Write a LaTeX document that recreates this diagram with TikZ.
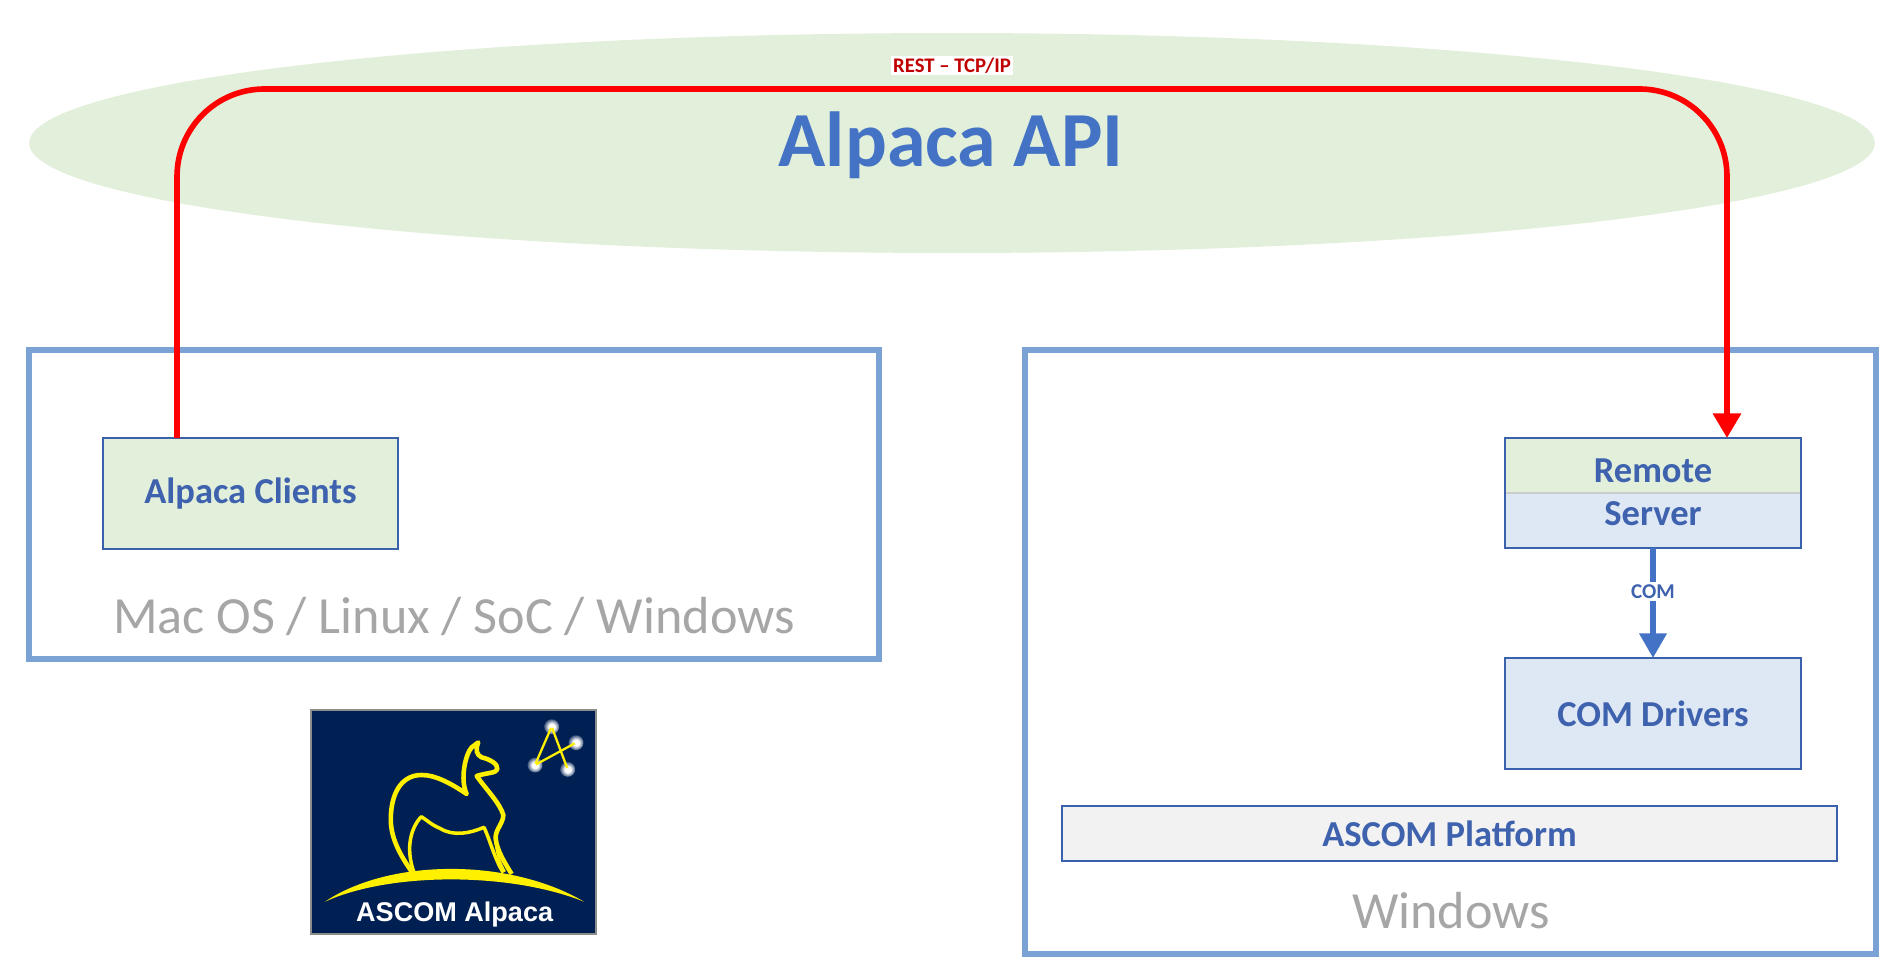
\documentclass[tikz,border=0pt]{standalone}
\usepackage{fontspec}
\setmainfont{Carlito}
\newfontfamily\logofont{Liberation Sans}
\usetikzlibrary{positioning,calc}
\usetikzlibrary{arrows.meta,shapes.geometric}
\definecolor{ApiGreen}{RGB}{226,239,218}
\definecolor{ApiBlue}{RGB}{68,114,196}
\definecolor{OsBlue}{RGB}{122,162,212}
\definecolor{BoxBlue}{RGB}{222,232,245}
\definecolor{BoxEdge}{RGB}{58,98,172}
\definecolor{TextBlue}{RGB}{62,98,174}
\definecolor{PlainGray}{RGB}{242,242,242}
\definecolor{OsGray}{RGB}{166,166,166}
\definecolor{RestRed}{RGB}{192,0,0}
\definecolor{LogoNavy}{RGB}{0,32,84}
\definecolor{LogoYellow}{RGB}{255,240,0}
\pgfdeclareradialshading{starglow}{\pgfpoint{0bp}{0bp}}{color(0bp)=(white);color(10bp)=(white);color(30bp)=(LogoNavy);color(100bp)=(LogoNavy)}
\tikzset{
  osbox/.style={draw=OsBlue,line width=3.8pt,inner sep=0pt,outer sep=0pt},
  swbox/.style={draw=BoxEdge,line width=1pt,inner sep=0pt,outer sep=0pt,text=TextBlue,font=\fontsize{20.8}{24}\selectfont\bfseries},
  oslabel/.style={text=OsGray,font=\fontsize{29.7}{34}\selectfont},
  rest/.style={draw=red,line width=3.2pt,rounded corners=1.75cm,-{Triangle[length=14pt,width=15.5pt]}},
  com/.style={draw=ApiBlue,line width=3.2pt,-{Triangle[length=14pt,width=15pt]}},
  logoline/.style={draw=LogoYellow,line width=2.6pt,line join=round},
  star/.style={circle,shading=starglow,minimum size=0.3cm,inner sep=0pt},
}
\begin{document}
\begin{tikzpicture}[x=0.02cm,y=-0.02cm]
\useasboundingbox (0,0) rectangle (1903,979);
\coordinate (top) at (952,89);
% api
\node[ellipse,fill=ApiGreen,inner sep=0pt,minimum width=36.92cm,minimum height=4.4cm] (api) at (952,143) {};
\node[text=ApiBlue,font=\fontsize{44.4}{54}\selectfont\bfseries,anchor=base] (apitxt) at (951,167) {Alpaca API};
% operating systems
\node[osbox,minimum width=17cm,minimum height=6.18cm] (macos) at (454,504.5) {};
\node[osbox,minimum width=17.02cm,minimum height=12.08cm] (win) at (1450.5,652) {};
\node[oslabel,anchor=base] (macostxt) at (454,633.5) {Mac OS / Linux / SoC / Windows};
\node[oslabel,anchor=base] (wintxt) at (1451,928.5) {Windows};
% boxes
\node[swbox,fill=ApiGreen,minimum width=5.9cm,minimum height=2.22cm] (clients) at (250.5,493.5) {Alpaca Clients};
\node[swbox,draw=none,fill=ApiGreen,minimum width=5.92cm,minimum height=1.1cm] (remote) at (1653,465.5) {\raisebox{-9.4pt}[0pt][0pt]{Remote}};
\node[swbox,draw=none,fill=BoxBlue,minimum width=5.92cm,minimum height=1.1cm,below=0pt of remote] (server) {\raisebox{-3.1pt}[0pt][0pt]{Server}};
\draw[black!20,line width=0.6pt] (remote.south west)--(remote.south east);
\draw[BoxEdge,line width=1pt] (remote.north west) rectangle (server.south east);
\node[swbox,fill=BoxBlue,minimum width=5.92cm,minimum height=2.22cm] (drivers) at (1653,713.5) {COM Drivers};
\node[swbox,fill=PlainGray,minimum width=15.5cm,minimum height=1.1cm] (platform) at (1449.5,833.5) {ASCOM Platform};
% connectors
\draw[rest] ([xshift=1.48cm]clients.north west) |- (top) -| ([xshift=4.44cm]remote.north west);
\node[fill=white,text=RestRed,font=\fontsize{11.8}{14}\selectfont\bfseries,inner sep=1pt] (resttxt) at (952,65.5) {REST -- TCP/IP};
\draw[com] (server.south)--(drivers.north);
\node[fill=white,text=TextBlue,font=\fontsize{12}{14}\selectfont\bfseries,inner sep=1.5pt] (comtxt) at (1653,591.5) {COM};
% logo
\begin{scope}[shift={(290,690)},x=0.00667cm,y=-0.00667cm]
\fill[LogoNavy,draw=black!45,line width=0.7pt] (63,60) rectangle (918,732);
\foreach \sx/\sy/\sn in {785/110/a,858/158/b,735/225/c,833/238/d}
  \node[star] (star\sn) at (\sx,\sy) {};
\draw[logoline,line width=1.3pt] (starc.center)--(stara.center)--(stard.center);
\draw[logoline,line width=1.3pt] (starc.center)--(starb.center);
\fill[LogoYellow] (105,635) .. controls (300,504) and (660,504) .. (882,635) .. controls (660,546) and (300,546) .. cycle;
\draw[logoline] (365,545) .. controls (320,480) and (298,430) .. (303,370) .. controls (308,300) and (340,255) .. (395,255)
  .. controls (440,255) and (490,285) .. (530,312) .. controls (510,270) and (525,195) .. (545,172) -- (565,157)
  .. controls (555,180) and (560,195) .. (575,202) .. controls (600,208) and (625,222) .. (622,238)
  .. controls (618,250) and (590,248) .. (560,258) .. controls (590,300) and (630,340) .. (640,375)
  .. controls (640,400) and (615,420) .. (617,445) .. controls (620,480) and (645,520) .. (665,552);
\draw[logoline,line width=2pt] (640,548) .. controls (615,510) and (600,450) .. (582,412)
  .. controls (540,430) and (490,440) .. (450,415) .. controls (425,405) and (410,390) .. (394,380)
  .. controls (365,410) and (345,470) .. (371,545);
\draw[logoline,line width=1.2pt] (617,445) .. controls (615,480) and (630,520) .. (645,545);
\foreach \sn in {a,b,c,d}
  \fill[white] (star\sn) circle (0.035cm);
\node[text=white,font=\logofont\fontsize{15.4}{18}\selectfont\bfseries,anchor=base] (logotxt) at (494,695) {ASCOM Alpaca};
\end{scope}
\end{tikzpicture}
\end{document}
